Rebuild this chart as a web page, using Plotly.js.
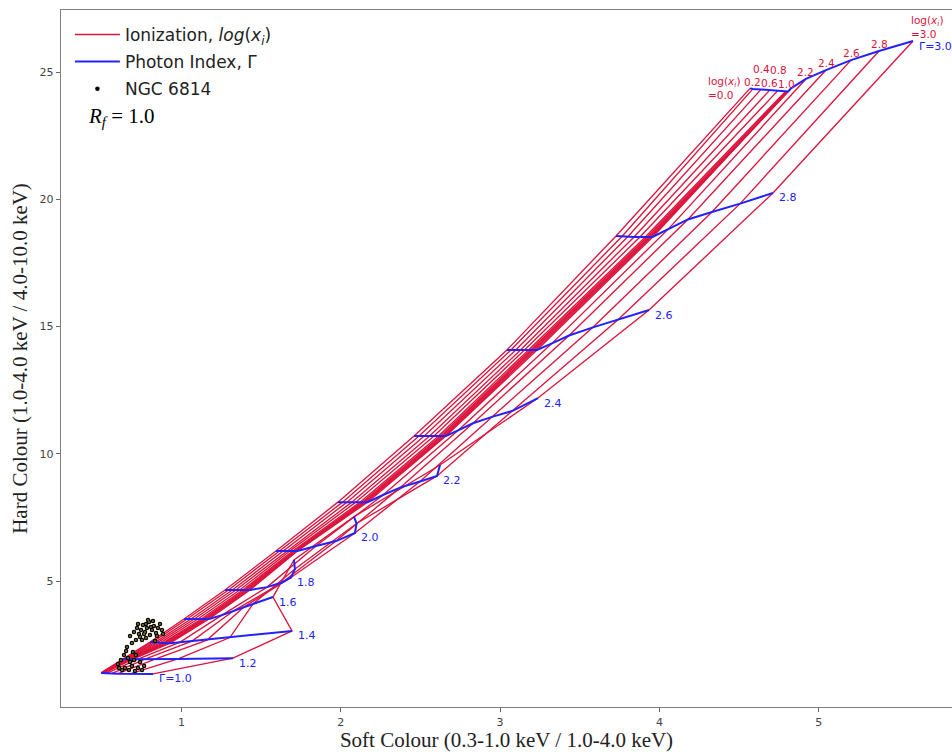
<!DOCTYPE html>
<html>
<head>
<meta charset="utf-8">
<script src="https://cdn.plot.ly/plotly-3.0.1.min.js"></script>
<style>
  html, body { margin: 0; padding: 0; background: #fff; }
  #chart { width: 952px; height: 756px; }
</style>
</head>
<body>
<div id="chart"></div>
<script>
// Model grid: colours for each photon index (rows) across ionization log(xi) = 0.0 ... 3.0
const gammas = [1.0, 1.2, 1.4, 1.6, 1.8, 2.0, 2.2, 2.4, 2.6, 2.8, 3.0];
const logXi  = [0.0, 0.2, 0.4, 0.6, 0.8, 1.0, 1.2, 1.4, 1.6, 1.8, 2.0, 2.2, 2.4, 2.6, 2.8, 3.0];

const soft_g10 = [0.495,0.497,0.499,0.501,0.503,0.505,0.507,0.509,0.511,0.513,0.515,0.532,0.564,0.601,0.677,0.821];
const hard_g10 = [1.39,1.39,1.39,1.39,1.39,1.39,1.39,1.39,1.39,1.39,1.39,1.38,1.37,1.36,1.35,1.35];

const soft_g12 = [0.633,0.639,0.645,0.652,0.658,0.664,0.670,0.677,0.683,0.689,0.695,0.727,0.771,0.834,0.978,1.323];
const hard_g12 = [1.93,1.93,1.93,1.93,1.93,1.93,1.93,1.93,1.93,1.93,1.93,1.93,1.93,1.93,1.94,1.97];

const soft_g14 = [0.802,0.818,0.834,0.849,0.865,0.881,0.890,0.900,0.909,0.918,0.928,0.991,1.066,1.160,1.304,1.694];
const hard_g14 = [2.60,2.60,2.59,2.58,2.57,2.56,2.56,2.56,2.56,2.56,2.56,2.60,2.64,2.68,2.78,3.04];

const soft_g16 = [1.016,1.035,1.057,1.078,1.100,1.119,1.132,1.141,1.151,1.160,1.173,1.254,1.330,1.392,1.449,1.574];
const hard_g16 = [3.51,3.51,3.50,3.50,3.50,3.49,3.49,3.49,3.50,3.50,3.51,3.66,3.84,3.98,4.10,4.37];

const soft_g18 = [1.273,1.295,1.317,1.339,1.361,1.380,1.392,1.402,1.411,1.421,1.430,1.537,1.631,1.687,1.712,1.706];
const hard_g18 = [4.65,4.65,4.64,4.64,4.63,4.63,4.63,4.63,4.63,4.64,4.65,4.76,4.94,5.14,5.47,5.83];

const soft_g20 = [1.593,1.615,1.637,1.659,1.678,1.694,1.703,1.709,1.716,1.722,1.728,1.844,1.970,2.089,2.099,2.083];
const hard_g20 = [6.18,6.18,6.18,6.17,6.17,6.16,6.16,6.16,6.17,6.17,6.18,6.38,6.57,6.89,7.26,7.53];

const soft_g22 = [1.982,2.011,2.039,2.067,2.092,2.117,2.130,2.139,2.149,2.158,2.168,2.265,2.372,2.497,2.604,2.623];
const hard_g22 = [8.10,8.10,8.10,8.09,8.09,8.08,8.08,8.08,8.09,8.10,8.10,8.38,8.67,8.91,9.13,9.56];

const soft_g24 = [2.460,2.491,2.522,2.554,2.582,2.610,2.623,2.632,2.642,2.651,2.660,2.736,2.830,2.949,3.075,3.238];
const hard_g24 = [10.70,10.70,10.69,10.68,10.68,10.68,10.68,10.68,10.68,10.69,10.70,10.92,11.20,11.45,11.68,12.19];

const soft_g26 = [3.043,3.068,3.097,3.125,3.150,3.175,3.188,3.197,3.207,3.219,3.232,3.326,3.433,3.583,3.740,3.935];
const hard_g26 = [14.08,14.08,14.07,14.06,14.06,14.06,14.06,14.06,14.06,14.07,14.08,14.34,14.65,14.97,15.27,15.65];

const soft_g28 = [3.728,3.765,3.803,3.841,3.878,3.910,3.922,3.932,3.941,3.950,3.960,4.054,4.179,4.330,4.507,4.713];
const hard_g28 = [18.56,18.54,18.54,18.52,18.52,18.51,18.51,18.51,18.51,18.52,18.53,18.82,19.21,19.50,19.83,20.25];

const soft_g30 = [4.569,4.587,4.638,4.694,4.745,4.795,4.801,4.807,4.813,4.820,4.826,4.920,5.046,5.203,5.379,5.592];
const hard_g30 = [24.36,24.34,24.32,24.30,24.28,24.26,24.25,24.24,24.27,24.31,24.36,24.73,25.08,25.47,25.83,26.22];

// Text labels for the grid lines
const gammaLabels = ['Γ=1.0','1.2','1.4','1.6','1.8','2.0','2.2','2.4','2.6','2.8','Γ=3.0'];
const xiLabels = ['log(<i>x<sub>i</sub></i>)<br>=0.0','0.2','0.4','0.6','0.8','1.0','','','','','','2.2','2.4','2.6','2.8','log(<i>x<sub>i</sub></i>)<br>=3.0'];

// NGC 6814 observed colours
const obsSoft = [0.677,0.702,0.721,0.733,0.746,0.758,0.771,0.783,0.796,0.802,0.815,0.827,0.840,0.852,0.865,0.877,0.777,0.752,0.714,0.689,0.790,0.821,0.846,0.765,0.808,0.740,0.834,0.884,0.727,0.777,
                 0.601,0.620,0.639,0.652,0.664,0.677,0.689,0.702,0.714,0.645,0.627,0.727,0.740,0.752,0.670,0.695,0.608,0.765,0.658,0.708];
const obsHard = [2.839,2.996,3.153,2.917,3.075,3.271,2.996,3.153,3.389,2.878,3.075,3.232,2.957,3.153,3.310,3.075,2.760,2.682,2.682,2.564,3.468,3.428,2.839,2.917,3.193,2.800,2.642,2.917,3.310,3.310,
                 1.739,1.896,2.092,2.250,1.974,1.817,1.660,1.896,2.092,1.582,1.503,1.582,1.817,1.503,1.503,2.210,1.582,1.660,2.407,1.464];

// ---------------------------------------------------------------
const gridSoft = [soft_g10, soft_g12, soft_g14, soft_g16, soft_g18, soft_g20, soft_g22, soft_g24, soft_g26, soft_g28, soft_g30];
const gridHard = [hard_g10, hard_g12, hard_g14, hard_g16, hard_g18, hard_g20, hard_g22, hard_g24, hard_g26, hard_g28, hard_g30];

const RED = '#dc143c';
const BLUE = '#2222ff';
const traces = [];

// constant-ionization tracks (one per log xi, running across photon index)
logXi.forEach((xi, j) => {
  traces.push({
    type: 'scatter', mode: 'lines',
    x: gridSoft.map(r => r[j]), y: gridHard.map(r => r[j]),
    line: { color: RED, width: 1.35 },
    name: 'Ionization, <i>log</i>(<i>x<sub>i</sub></i>)',
    legendgroup: 'ion', showlegend: j === 0, hoverinfo: 'skip'
  });
});

// constant photon-index tracks
gammas.forEach((g, i) => {
  traces.push({
    type: 'scatter', mode: 'lines',
    x: gridSoft[i], y: gridHard[i],
    line: { color: BLUE, width: 2 },
    name: 'Photon Index, Γ',
    legendgroup: 'gam', showlegend: i === 0, hoverinfo: 'skip'
  });
});

// observed points: black dot with a yellow core
traces.push({
  type: 'scatter', mode: 'markers', x: obsSoft, y: obsHard,
  marker: { color: '#000', size: 4.5 },
  name: 'NGC 6814', legendgroup: 'obs', showlegend: true
});
traces.push({
  type: 'scatter', mode: 'markers', x: obsSoft, y: obsHard,
  marker: { color: '#e6d600', size: 1.6 },
  legendgroup: 'obs', showlegend: false, hoverinfo: 'skip'
});

// labels at the end of each photon-index track
const gammaLabelPoint = { 5: 13, 6: 14, 4: 13 };
const annotations = [];
gammas.forEach((g, i) => {
  const k = (gammaLabelPoint[i] !== undefined) ? gammaLabelPoint[i] : logXi.length - 1;
  annotations.push({
    x: gridSoft[i][k], y: gridHard[i][k], xref: 'x', yref: 'y',
    text: gammaLabels[i], showarrow: false,
    xanchor: 'left', yanchor: 'middle', xshift: 4, yshift: -5,
    font: { family: 'DejaVu Sans', size: 11, color: BLUE }
  });
});

// labels at the upper end of each ionization track
const lastRow = gridSoft.length - 1;
logXi.forEach((xi, j) => {
  if (!xiLabels[j]) return;
  const a = {
    x: gridSoft[lastRow][j], y: gridHard[lastRow][j], xref: 'x', yref: 'y',
    text: xiLabels[j], showarrow: false,
    xanchor: 'center', yanchor: 'bottom', yshift: -1,
    font: { family: 'DejaVu Sans', size: 10.5, color: RED }
  };
  if (j === 2 || j === 4) a.yshift = 12;
  if (j === 0) { a.xanchor = 'right'; a.yanchor = 'middle'; a.xshift = -8; a.yshift = 0; a.align = 'left'; }
  if (j === logXi.length - 1) { a.xanchor = 'left'; a.xshift = -4; a.yshift = -1; a.align = 'left'; }
  annotations.push(a);
});

annotations.push({
  xref: 'paper', yref: 'paper', x: 0.028, y: 0.846, xanchor: 'left', yanchor: 'middle',
  text: '<i>R<sub>f</sub></i> = 1.0', showarrow: false,
  font: { family: 'Liberation Serif', size: 21, color: '#000' }
});

const layout = {
  width: 952, height: 756,
  margin: { l: 61, r: 0, t: 10, b: 49 },
  paper_bgcolor: '#fff', plot_bgcolor: '#fff',
  font: { family: 'DejaVu Sans', color: '#333' },
  xaxis: {
    range: [0.2436, 5.837], showgrid: false, zeroline: false,
    tickvals: [1, 2, 3, 4, 5], ticks: 'outside', ticklen: 4, tickcolor: '#666',
    tickfont: { size: 11, color: '#444' },
    showline: true, mirror: true, linecolor: '#808080', linewidth: 1.3,
    title: { text: 'Soft Colour (0.3-1.0 keV / 1.0-4.0 keV)', standoff: 3,
             font: { family: 'Liberation Serif', size: 21, color: '#222' } }
  },
  yaxis: {
    range: [0.05, 27.44], showgrid: false, zeroline: false,
    tickvals: [5, 10, 15, 20, 25], ticks: 'outside', ticklen: 4, tickcolor: '#666',
    tickfont: { size: 11, color: '#444' },
    showline: true, mirror: true, linecolor: '#808080', linewidth: 1.3,
    title: { text: 'Hard Colour (1.0-4.0 keV / 4.0-10.0 keV)', standoff: 6,
             font: { family: 'Liberation Serif', size: 21, color: '#222' } }
  },
  showlegend: true,
  legend: {
    x: 0.01, y: 0.99, xanchor: 'left', yanchor: 'top',
    bgcolor: 'rgba(0,0,0,0)', borderwidth: 0,
    font: { family: 'DejaVu Sans', size: 17, color: '#222' },
    itemwidth: 45,
    tracegroupgap: 2, traceorder: 'grouped'
  },
  annotations: annotations
};

Plotly.newPlot('chart', traces, layout, { displayModeBar: false, staticPlot: true });
</script>
</body>
</html>
